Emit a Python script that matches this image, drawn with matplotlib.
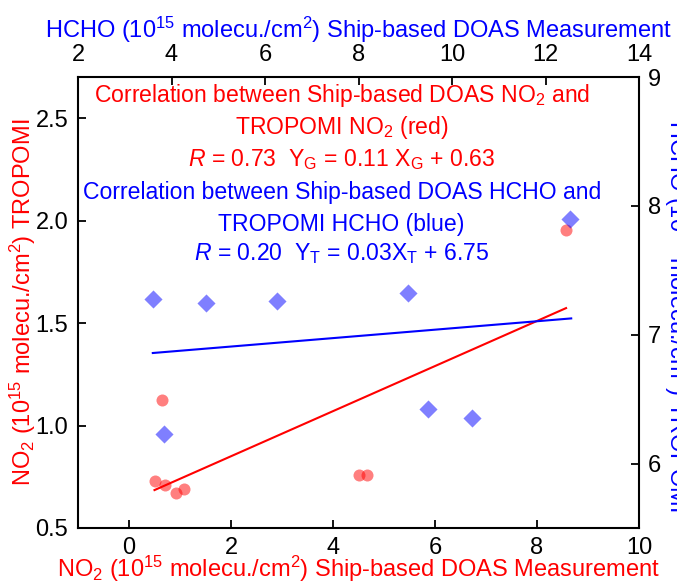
import numpy as np
import matplotlib
matplotlib.use("Agg")
import matplotlib.pyplot as plt

plt.rcParams['font.family'] = ['Liberation Sans', 'DejaVu Sans']
plt.rcParams['mathtext.fontset'] = 'custom'
plt.rcParams['mathtext.rm'] = 'Liberation Sans'
plt.rcParams['mathtext.it'] = 'Liberation Sans:italic'
plt.rcParams['mathtext.bf'] = 'Liberation Sans:bold'

# NO2: ship-based DOAS vs TROPOMI (10^15 molecu./cm2)
no2_ship = [0.50, 0.64, 0.70, 0.92, 1.08, 4.51, 4.67, 8.57]
no2_tropomi = [0.73, 1.126, 0.712, 0.673, 0.691, 0.759, 0.759, 1.955]
no2_slope, no2_icpt = 0.11, 0.63

# HCHO: ship-based DOAS vs TROPOMI (10^15 molecu./cm2)
hcho_ship = [3.60, 4.73, 6.26, 9.06, 3.84, 9.49, 10.42, 12.52]
hcho_tropomi = [7.275, 7.25, 7.26, 7.32, 6.233, 6.42, 6.35, 7.90]
hcho_slope, hcho_icpt = 0.03, 6.75

FS = 17      # axis labels / ticks
FS_NOTE = 16.6

fig = plt.figure(figsize=(6.77, 5.81), dpi=100)
pos = [78 / 677, 53 / 581, 561 / 677, 451 / 581]
ax = fig.add_axes(pos)
ax2 = fig.add_axes(pos, frameon=False)

# NO2 on bottom/left axes
ax.scatter(no2_ship, no2_tropomi, s=75, color='red', alpha=0.5, linewidths=0, zorder=3)
xf = np.array([min(no2_ship), max(no2_ship)])
ax.plot(xf, no2_slope * xf + no2_icpt, color='red', lw=1.5, zorder=4)
ax.set_xlim(-1, 10)
ax.set_ylim(0.5, 2.7)
ax.set_xticks([0, 2, 4, 6, 8, 10])
ax.set_yticks([0.5, 1.0, 1.5, 2.0, 2.5])
ax.set_yticklabels(['0.5', '1.0', '1.5', '2.0', '2.5'])
ax.tick_params(direction='in', length=6, width=1.3, labelsize=FS)
ax.tick_params(axis='x', pad=6.5)
ax.tick_params(axis='y', pad=7)
ax.set_xlabel('NO$_2$ (10$^{15}$ molecu./cm$^2$) Ship-based DOAS Measurement',
              color='red', fontsize=FS, labelpad=-4)
for sp in ax.spines.values():
    sp.set_linewidth(1.5)

# HCHO on top/right axes
ax2.scatter(hcho_ship, hcho_tropomi, s=85, marker='D', color='blue', alpha=0.5,
            linewidths=0, zorder=3)
xh = np.array([min(hcho_ship), 12.55])
ax2.plot(xh, hcho_slope * xh + hcho_icpt, color='blue', lw=1.5, zorder=4)
ax2.set_xlim(2, 14)
ax2.set_ylim(5.5, 9)
ax2.set_xticks([2, 4, 6, 8, 10, 12, 14])
ax2.set_yticks([6, 7, 8, 9])
ax2.xaxis.tick_top()
ax2.yaxis.tick_right()
ax2.xaxis.set_label_position('top')
ax2.tick_params(direction='in', length=6, width=1.3, labelsize=FS)
ax2.tick_params(axis='x', pad=8)
ax2.tick_params(axis='y', pad=6.5)
ax2.set_xlabel('HCHO (10$^{15}$ molecu./cm$^2$) Ship-based DOAS Measurement',
               color='blue', fontsize=FS, labelpad=4)

# y labels placed on the figure so the right one runs off the edge
fig.text(23 / 677, 1 - 302 / 581, 'NO$_2$ (10$^{15}$ molecu./cm$^2$) TROPOMI', color='red',
         fontsize=FS, rotation=90, ha='center', va='center')
fig.text(662 / 677, 1 - 316 / 581, 'HCHO (10$^{15}$ molecu./cm$^2$) TROPOMI', color='blue',
         fontsize=FS, rotation=-90, ha='left', va='center')

# correlation notes
cx = 0.47
notes = [
    (0.960, 'Correlation between Ship-based DOAS NO$_2$ and', 'red'),
    (0.889, 'TROPOMI NO$_2$ (red)', 'red'),
    (0.818, r'$R$ = 0.73  Y$_\mathrm{G}$ = 0.11 X$_\mathrm{G}$ + 0.63', 'red'),
    (0.743, 'Correlation between Ship-based DOAS HCHO and', 'blue'),
    (0.674, 'TROPOMI HCHO (blue)', 'blue'),
    (0.608, r'$R$ = 0.20  Y$_\mathrm{T}$ = 0.03X$_\mathrm{T}$ + 6.75', 'blue'),
]
for ty, txt, c in notes:
    ax.text(cx, ty, txt, color=c, fontsize=FS_NOTE, ha='center', va='center',
            transform=ax.transAxes)

fig.savefig('out.png', dpi=100)
